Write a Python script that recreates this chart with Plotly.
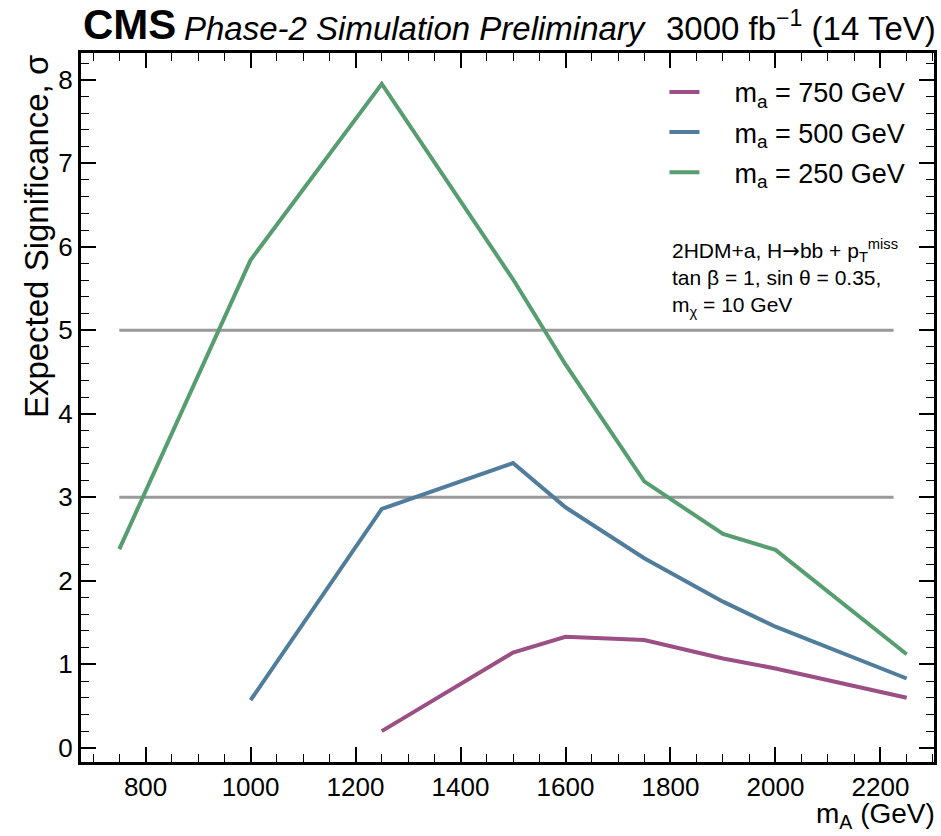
import plotly.graph_objects as go

# Expected significance vs heavy pseudoscalar mass m_A, for three m_a hypotheses
m_A_750 = [1250, 1500, 1600, 1750, 1900, 2000, 2250]
sig_750 = [0.20, 1.14, 1.33, 1.29, 1.07, 0.95, 0.60]

m_A_500 = [1000, 1250, 1500, 1600, 1750, 1900, 2000, 2250]
sig_500 = [0.57, 2.86, 3.41, 2.88, 2.27, 1.75, 1.45, 0.83]

m_A_250 = [750, 1000, 1250, 1500, 1600, 1750, 1900, 2000, 2250]
sig_250 = [2.38, 5.84, 7.95, 5.61, 4.59, 3.19, 2.56, 2.37, 1.12]

series_labels = ["m<sub>a</sub> = 750 GeV", "m<sub>a</sub> = 500 GeV", "m<sub>a</sub> = 250 GeV"]
series_colors = ["#9b4f84", "#4f7d9b", "#569e70"]

# 3 sigma evidence and 5 sigma discovery reference levels
ref_levels = [3, 5]
ref_span = [750, 2225]

x_ticks = [800, 1000, 1200, 1400, 1600, 1800, 2000, 2200]
y_ticks = [0, 1, 2, 3, 4, 5, 6, 7, 8]

FONT = "Liberation Sans, Arial, Helvetica, sans-serif"
NBSP = "\u00a0"

fig = go.Figure()

for lvl in ref_levels:
    fig.add_trace(go.Scatter(
        x=ref_span, y=[lvl, lvl], mode="lines",
        line=dict(color="#999999", width=3),
        showlegend=False, hoverinfo="skip"))

for i, (xs, ys) in enumerate([(m_A_750, sig_750), (m_A_500, sig_500), (m_A_250, sig_250)]):
    fig.add_trace(go.Scatter(
        x=xs, y=ys, mode="lines", name=NBSP * 4 + series_labels[i],
        legendgroup=f"g{i}",
        line=dict(color=series_colors[i], width=4)))

axis_common = dict(
    showline=True, linecolor="black", linewidth=3, mirror="allticks",
    ticks="inside", ticklen=15, tickwidth=1.5, tickcolor="black",
    showgrid=False, zeroline=False,
    tickfont=dict(family=FONT, size=26, color="black"),
)

fig.update_xaxes(
    range=[677, 2302], tickvals=x_ticks,
    minor=dict(dtick=50, tick0=0, ticks="inside", ticklen=8, tickwidth=1.2, tickcolor="black"),
    **axis_common)
fig.update_yaxes(
    range=[-0.17, 8.32], tickvals=y_ticks,
    minor=dict(dtick=0.2, tick0=0, ticks="inside", ticklen=8, tickwidth=1.2, tickcolor="black"),
    **axis_common)

arrow = "<span style='font-family:DejaVu Sans'>→</span>"

annotations = [
    dict(text="<b>CMS</b>", x=0.0, y=1.0, xref="paper", yref="paper",
         xanchor="left", yanchor="bottom", yshift=3, showarrow=False,
         font=dict(family=FONT, size=42, color="black")),
    dict(text="<i>Phase-2 Simulation Preliminary</i>", x=0.118, y=1.0, xref="paper", yref="paper",
         xanchor="left", yanchor="bottom", yshift=4, showarrow=False,
         font=dict(family=FONT, size=33, color="black")),
    dict(text="3000 fb<sup>−1</sup> (14 TeV)", x=1.0, y=1.0, xref="paper", yref="paper",
         xanchor="right", yanchor="bottom", xshift=4, yshift=4, showarrow=False,
         font=dict(family=FONT, size=33, color="black")),
    dict(text="Expected Significance, σ", x=-0.028, y=1.0, xref="paper", yref="paper",
         xanchor="right", yanchor="top", textangle=-90, showarrow=False,
         font=dict(family=FONT, size=33, color="black")),
    dict(text="m<sub>A</sub> (GeV)", x=1.0, y=-0.048, xref="paper", yref="paper",
         xanchor="right", yanchor="top", xshift=3, showarrow=False,
         font=dict(family=FONT, size=28, color="black")),
    dict(text="2HDM+a, H" + arrow + "bb + p<sub>T</sub><sup>miss</sup><br>tan β = 1, sin θ = 0.35,<br>m<sub>χ</sub> = 10 GeV",
         x=0.691, y=0.745, xref="paper", yref="paper", align="left",
         xanchor="left", yanchor="top", showarrow=False,
         font=dict(family=FONT, size=21, color="black")),
]

fig.update_layout(
    width=941, height=836,
    margin=dict(l=81, r=4, t=53, b=74),
    paper_bgcolor="white", plot_bgcolor="white",
    font=dict(family=FONT, color="black"),
    legend=dict(x=0.684, y=0.979, xanchor="left", yanchor="top",
                bgcolor="rgba(0,0,0,0)", tracegroupgap=2,
                font=dict(family=FONT, size=27, color="black")),
    annotations=annotations,
)

fig.write_html("out.html")
